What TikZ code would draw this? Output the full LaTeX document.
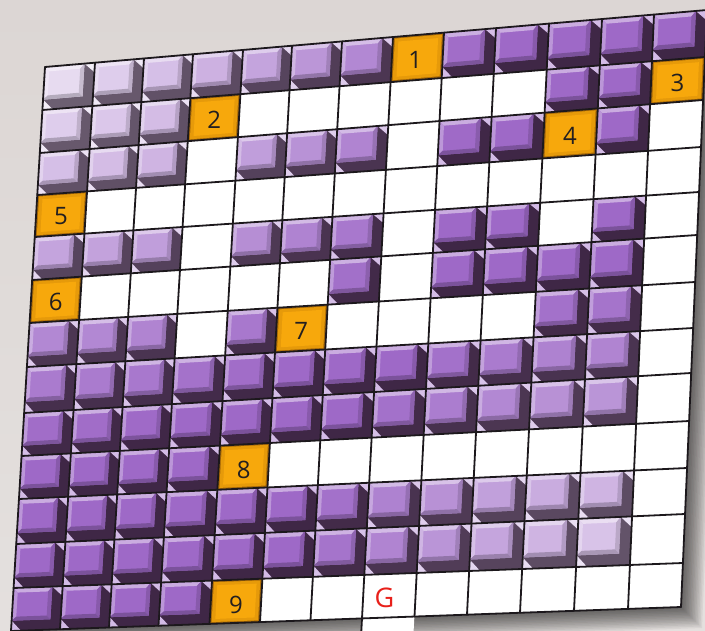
\documentclass[tikz,border=0pt]{standalone}
\usepackage{fontspec}
\setmainfont{Open Sans}
\usetikzlibrary{calc}
\definecolor{bgtop}{HTML}{DCD6D4}
\definecolor{bgbot}{HTML}{E4E0DE}
\definecolor{plight}{HTML}{EFE7F5}
\definecolor{pdark}{HTML}{975EC3}
\definecolor{slight}{HTML}{716576}
\definecolor{sdark}{HTML}{3B2142}
\definecolor{orout}{HTML}{A96A07}
\definecolor{ormid}{HTML}{E69A0A}
\definecolor{orin}{HTML}{F7A80C}
\definecolor{gridc}{HTML}{1C181C}
\definecolor{numc}{HTML}{231F20}
\definecolor{gred}{HTML}{E8201A}
\tikzset{
  gridline/.style={draw=gridc,line width=1.8pt,line cap=round,line join=round},
  numlabel/.style={text=numc,font=\fontsize{24}{24}\selectfont,inner sep=0pt},
  goallabel/.style={text=gred,font=\fontsize{27}{27}\selectfont,inner sep=0pt},
  boardshadow/.style={fill=black,fill opacity=0.05},
}
\begin{document}
\begin{tikzpicture}[x=1pt,y=-1pt]
\useasboundingbox (0,0) rectangle (705,631);
\shade[top color=bgtop,bottom color=bgbot] (0,0) rectangle (705,631);
% column lines (top x / bottom x)
\foreach \i/\xt/\xb in {0/45/11,1/95/60,2/144/109,3/193/158.5,4/243/209.5,5/292/260,6/342/310.5,7/393/362,8/444/414.5,9/496/467,10/549/520,11/602/574,12/654/628,13/707/681}{
  \pgfmathsetmacro\yt{67-0.0861*(\xt-45)}
  \pgfmathsetmacro\yb{631-0.0358*(\xb-11)}
  \expandafter\xdef\csname cxt\i\endcsname{\xt}
  \expandafter\xdef\csname cyt\i\endcsname{\yt}
  \expandafter\xdef\csname cxb\i\endcsname{\xb}
  \expandafter\xdef\csname cyb\i\endcsname{\yb}
}
% row lines (left y / right y)
\foreach \j/\yl/\yr in {0/67/10,1/110/57,2/153/100,3/195/147,4/237/192,5/280/235,6/323/282,7/367/328,8/413/373,9/456/421,10/499/468,11/544/514,12/588/563,13/631/607}{
  \pgfmathsetmacro\xl{45-0.0603*(\yl-67)}
  \pgfmathsetmacro\xr{707-0.04355*(\yr-10)}
  \expandafter\xdef\csname rxl\j\endcsname{\xl}
  \expandafter\xdef\csname ryl\j\endcsname{\yl}
  \expandafter\xdef\csname rxr\j\endcsname{\xr}
  \expandafter\xdef\csname ryr\j\endcsname{\yr}
}
% grid vertices = intersections of column and row lines
\foreach \i in {0,...,13}{
  \foreach \j in {0,...,13}{
    \edef\px{\csname cxt\i\endcsname}\edef\py{\csname cyt\i\endcsname}
    \edef\pxb{\csname cxb\i\endcsname}\edef\pyb{\csname cyb\i\endcsname}
    \edef\qx{\csname rxl\j\endcsname}\edef\qy{\csname ryl\j\endcsname}
    \edef\qxr{\csname rxr\j\endcsname}\edef\qyr{\csname ryr\j\endcsname}
    \pgfmathsetmacro\Aone{(\pxb-\px)/100}
    \pgfmathsetmacro\Bone{(\pyb-\py)/100}
    \pgfmathsetmacro\Atwo{(\qxr-\qx)/100}
    \pgfmathsetmacro\Btwo{(\qyr-\qy)/100}
    \pgfmathsetmacro\DX{(\qx-\px)/100}
    \pgfmathsetmacro\DY{(\qy-\py)/100}
    \pgfmathsetmacro\uu{((\DX)*(\Btwo)-(\DY)*(\Atwo))/((\Aone)*(\Btwo)-(\Bone)*(\Atwo))}
    \pgfmathsetmacro\vx{\px+100*(\uu)*(\Aone)}
    \pgfmathsetmacro\vy{\py+100*(\uu)*(\Bone)}
    \coordinate (v-\i-\j) at (\vx,\vy);
  }
}
% board shadow
\foreach \k in {1,...,14}{
  \fill[boardshadow] ($(v-0-0)+(\k*0.5,\k*1.0)$) -- ($(v-13-0)+(\k*1.4,\k*0.9)$) -- ($(v-13-13)+(\k*1.5,\k*1.5)$) -- ($(v-0-13)+(\k*1.0,\k*1.5)$) -- cycle;
}
% cells
\foreach \rowdata [count=\j] in {
{P,P,P,P,P,P,P,1,P,P,P,P,P},
{P,P,P,2,W,W,W,W,W,W,P,P,3},
{P,P,P,W,P,P,P,W,P,P,4,P,W},
{5,W,W,W,W,W,W,W,W,W,W,W,W},
{P,P,P,W,P,P,P,W,P,P,W,P,W},
{6,W,W,W,W,W,P,W,P,P,P,P,W},
{P,P,P,W,P,7,W,W,W,W,P,P,W},
{P,P,P,P,P,P,P,P,P,P,P,P,W},
{P,P,P,P,P,P,P,P,P,P,P,P,W},
{P,P,P,P,8,W,W,W,W,W,W,W,W},
{P,P,P,P,P,P,P,P,P,P,P,P,W},
{P,P,P,P,P,P,P,P,P,P,P,P,W},
{P,P,P,P,9,W,W,G,W,W,W,W,W}}{
  \foreach \t [count=\i] in \rowdata {
    \pgfmathtruncatemacro\ii{\i-1}
    \pgfmathtruncatemacro\jj{\j-1}
    \pgfmathtruncatemacro\fp{100*min(0.92,max(0.08,0.92-0.1*veclen(\j-1,\i-1))+max(0,0.72-0.12*veclen(\j-12.3,\i-12.3)))}
    \colorlet{face}{plight!\fp!pdark}
    \colorlet{hl}{face!55!white}
    \colorlet{hl2}{face!70!white}
    \colorlet{dk}{face!86!black}
    \colorlet{dk2}{face!78!black}
    \colorlet{shd}{slight!\fp!sdark}
    \colorlet{bgl}{face!45!white}
    \begin{scope}[x=1pt,y=1pt]
      \pgftransformtriangle{\pgfpointanchor{v-\ii-\jj}{center}}{\pgfpointanchor{v-\i-\jj}{center}}{\pgfpointanchor{v-\ii-\j}{center}}
      \if P\t
        \fill[shd] (0,0) -- (1,0) -- (1,1) -- (0,1) -- cycle;
        \fill[bgl] (0.79,0) -- (1,0) -- (1,0.22) -- cycle;
        \fill[bgl] (0,0.76) -- (0,1) -- (0.2,1) -- cycle;
        \fill[face] (0,0) -- (0.79,0) -- (0.79,0.76) -- (0,0.76) -- cycle;
        \fill[hl] (0,0) -- (0.79,0) -- (0.71,0.11) -- (0.09,0.11) -- cycle;
        \fill[hl2] (0,0) -- (0.09,0.11) -- (0.09,0.67) -- (0,0.76) -- cycle;
        \fill[dk] (0.79,0) -- (0.79,0.76) -- (0.71,0.67) -- (0.71,0.11) -- cycle;
        \fill[dk2] (0,0.76) -- (0.79,0.76) -- (0.71,0.67) -- (0.09,0.67) -- cycle;
      \else\if W\t
        \fill[white] (0,0) -- (1,0) -- (1,1) -- (0,1) -- cycle;
      \else\if G\t
        \fill[white] (0,0) -- (1,0) -- (1,1) -- (0,1) -- cycle;
      \else
        \fill[orout] (0,0) -- (1,0) -- (1,1) -- (0,1) -- cycle;
        \fill[ormid] (0.04,0.04) -- (0.96,0.04) -- (0.96,0.96) -- (0.04,0.96) -- cycle;
        \fill[orin] (0.11,0.11) -- (0.89,0.11) -- (0.89,0.89) -- (0.11,0.89) -- cycle;
      \fi\fi\fi
    \end{scope}
  }
}
% grid lines
\foreach \i in {0,...,13}{\draw[gridline] (v-\i-0) -- (v-\i-13);}
\foreach \j in {0,...,13}{\draw[gridline] (v-0-\j) -- (v-13-\j);}
% labels
\node[numlabel] (n1) at ($(v-7-0)!0.5!(v-8-1)+(-2,2)$) {1};
\node[numlabel] (n2) at ($(v-3-1)!0.5!(v-4-2)+(0,2)$) {2};
\node[numlabel] (n3) at ($(v-12-1)!0.5!(v-13-2)+(0,2)$) {3};
\node[numlabel] (n4) at ($(v-10-2)!0.5!(v-11-3)+(0,2)$) {4};
\node[numlabel] (n5) at ($(v-0-3)!0.5!(v-1-4)+(0,2)$) {5};
\node[numlabel] (n6) at ($(v-0-5)!0.5!(v-1-6)+(0,2)$) {6};
\node[numlabel] (n7) at ($(v-5-6)!0.5!(v-6-7)+(0,2)$) {7};
\node[numlabel] (n8) at ($(v-4-9)!0.5!(v-5-10)+(0,3)$) {8};
\node[numlabel] (n9) at ($(v-4-12)!0.5!(v-5-13)+(0,4)$) {9};
\node[goallabel] (goal) at ($(v-7-12)!0.5!(v-8-13)+(-5,2)$) {G};
\end{tikzpicture}
\end{document}
